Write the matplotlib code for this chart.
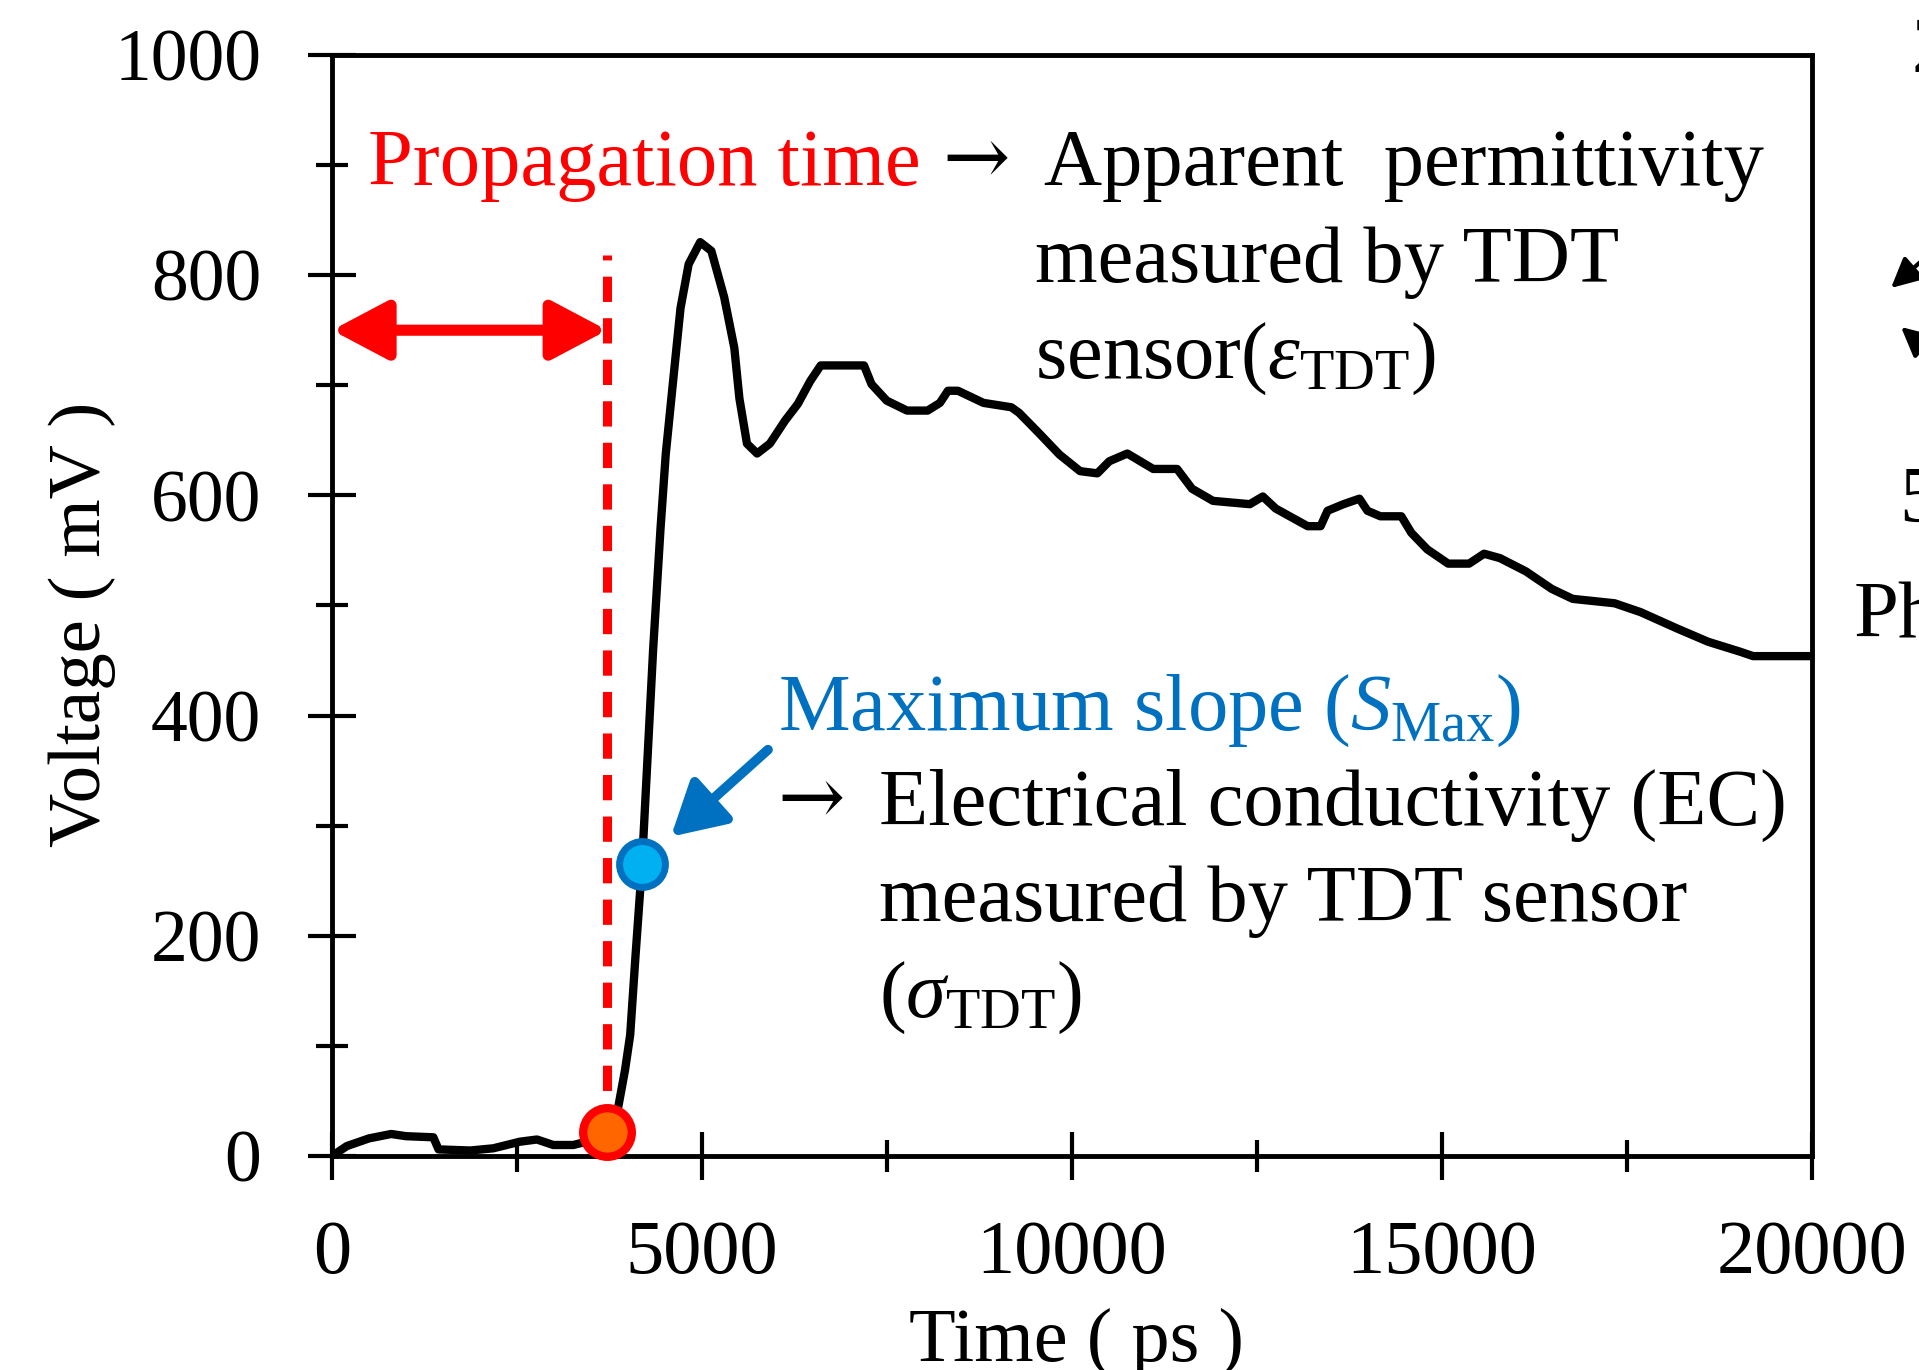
import matplotlib
matplotlib.use("Agg")
import matplotlib.pyplot as plt
from matplotlib.ticker import MultipleLocator

plt.rcParams['font.family'] = ['Liberation Serif', 'DejaVu Serif']
plt.rcParams['mathtext.fontset'] = 'custom'
plt.rcParams['mathtext.rm'] = 'Liberation Serif'
plt.rcParams['mathtext.it'] = 'Liberation Serif:italic'

# TDT waveform
time_ps = [0, 200, 500, 800, 1000, 1370, 1440, 1870, 2180, 2540, 2770, 2990, 3260, 3440,
           3720, 3870, 3960, 4030, 4100, 4190, 4340, 4440, 4510, 4610, 4710, 4820, 4976,
           5127, 5300, 5437, 5506, 5608, 5745, 5918, 6124, 6295, 6465, 6605, 6880, 7190,
           7291, 7497, 7771, 8049, 8216, 8324, 8459, 8804, 9181, 9285, 9562, 9832, 10110,
           10343, 10505, 10748, 10923, 11098, 11421, 11623, 11906, 12404, 12579, 12754,
           13185, 13360, 13454, 13670, 13885, 13993, 14168, 14451, 14586, 14801, 15084,
           15367, 15569, 15784, 16134, 16485, 16767, 17333, 17683, 18181, 18599, 19030,
           19205, 20000]
voltage_mv = [0, 9, 16, 20, 18, 17, 6, 5, 7, 13, 15, 10, 10, 13,
              20, 45, 78, 110, 180, 265, 460, 570, 637, 704, 770, 810, 830,
              822, 780, 734, 688, 647, 638, 647, 668, 683, 704, 718, 718, 718,
              701, 686, 677, 677, 684, 695, 695, 684, 680, 675, 656, 637, 622,
              620, 631, 638, 631, 624, 624, 606, 595, 592, 599, 588,
              572, 572, 586, 592, 597, 586, 581, 581, 566, 551, 538,
              538, 547, 543, 531, 515, 506, 502, 494, 479, 467, 458,
              454, 454]

# marked points
prop_time = 3720      # ps, start of the rise
prop_volt = 22
slope_time = 4190     # ps, maximum slope
slope_volt = 265
prop_line_top = 818   # top of the dashed line (mV)
arrow_level = 750     # height of the propagation-time arrow (mV)

RED = '#FF0000'
BLUE = '#0070C0'

fig = plt.figure(figsize=(19.19, 13.70), dpi=100)
ax = fig.add_axes([0.1730, 0.1562, 0.7712, 0.8037])

ax.plot(time_ps, voltage_mv, color='black', lw=6, solid_joinstyle='round', zorder=3)

# propagation time: dashed line + double arrow
ax.plot([prop_time, prop_time], [prop_volt, prop_line_top], color=RED, lw=6.5,
        linestyle=(0, (2.8, 1.8)), zorder=2)
ax.annotate('', xy=(prop_time, arrow_level), xytext=(0, arrow_level),
            arrowprops=dict(arrowstyle='<|-|>,head_length=3.4,head_width=1.8',
                            mutation_scale=10, color=RED, lw=8,
                            shrinkA=0, shrinkB=0), zorder=4)

ax.plot([prop_time], [prop_volt], 'o', ms=35, mfc='#FF6600', mec=RED, mew=6, zorder=5,
        clip_on=False)
ax.plot([slope_time], [slope_volt], 'o', ms=33, mfc='#00B0F0', mec=BLUE, mew=5, zorder=5)

# maximum slope arrow
ax.annotate('', xy=(4580, 290), xytext=(5892, 369),
            arrowprops=dict(arrowstyle='-|>,head_length=3.2,head_width=1.8',
                            mutation_scale=10, color=BLUE, lw=7,
                            shrinkA=0, shrinkB=0), zorder=4)

fs = 58
arrow_font = ['DejaVu Serif']
ax.text(493, 882, 'Propagation time', color=RED, fontsize=fs, va='baseline')
ax.text(8243, 882, '\u2192', fontsize=fs, va='baseline', family=arrow_font)
ax.text(9622, 882, 'Apparent  permittivity', fontsize=fs, va='baseline')
ax.text(9494, 794, 'measured by TDT', fontsize=fs, va='baseline')
ax.text(9494, 707, r'sensor($\varepsilon_{\mathrm{TDT}}$)', fontsize=fs, va='baseline')

ax.text(6021, 387, r'Maximum slope ($S_{\mathrm{Max}}$)', color=BLUE, fontsize=fs,
        va='baseline')
ax.text(6021, 301, '\u2192', fontsize=fs, va='baseline', family=arrow_font)
ax.text(7392, 301, 'Electrical conductivity (EC)', fontsize=fs, va='baseline')
ax.text(7392, 213, 'measured by TDT sensor', fontsize=fs, va='baseline')
ax.text(7392, 126, r'($\sigma_{\mathrm{TDT}}$)', fontsize=fs, va='baseline')

ax.set_xlim(0, 20000)
ax.set_ylim(0, 1000)
ax.xaxis.set_major_locator(MultipleLocator(5000))
ax.xaxis.set_minor_locator(MultipleLocator(2500))
ax.yaxis.set_major_locator(MultipleLocator(200))
ax.yaxis.set_minor_locator(MultipleLocator(100))

ax.tick_params(which='both', direction='inout', width=3, colors='black')
ax.tick_params(which='major', length=34)
ax.tick_params(which='minor', length=23)
ax.tick_params(axis='x', which='major', labelsize=55, pad=29)
ax.tick_params(axis='y', which='major', labelsize=53, pad=34)
for s in ax.spines.values():
    s.set_linewidth(3.5)

ax.set_xlabel('Time ( ps )', fontsize=55)
ax.xaxis.set_label_coords(0.503, -0.186)
ax.xaxis.label.set_va('baseline')
ax.set_ylabel('Voltage ( mV )', fontsize=54)
ax.yaxis.set_label_coords(-0.169, 0.483)
ax.yaxis.label.set_va('center')

# fragments of the neighbouring panel, cut by the right edge
W, H = 1919, 1370
fig.text(1911 / W, 1 - 72 / H, '2', fontsize=fs)
fig.text(1899 / W, 1 - 522 / H, '5', fontsize=fs)
fig.text(1854 / W, 1 - 637 / H, 'Ph', fontsize=fs)
ax.annotate('', xy=(1891, H - 288), xytext=(1935, H - 249), xycoords='figure pixels',
            textcoords='figure pixels', annotation_clip=False,
            arrowprops=dict(arrowstyle='-|>,head_length=1.8,head_width=0.9',
                            mutation_scale=10, color='black', lw=3,
                            shrinkA=0, shrinkB=0))
ax.annotate('', xy=(1901, H - 327), xytext=(1945, H - 365), xycoords='figure pixels',
            textcoords='figure pixels', annotation_clip=False,
            arrowprops=dict(arrowstyle='-|>,head_length=1.8,head_width=0.9',
                            mutation_scale=10, color='black', lw=3,
                            shrinkA=0, shrinkB=0))

fig.savefig('out.png', dpi=100)
